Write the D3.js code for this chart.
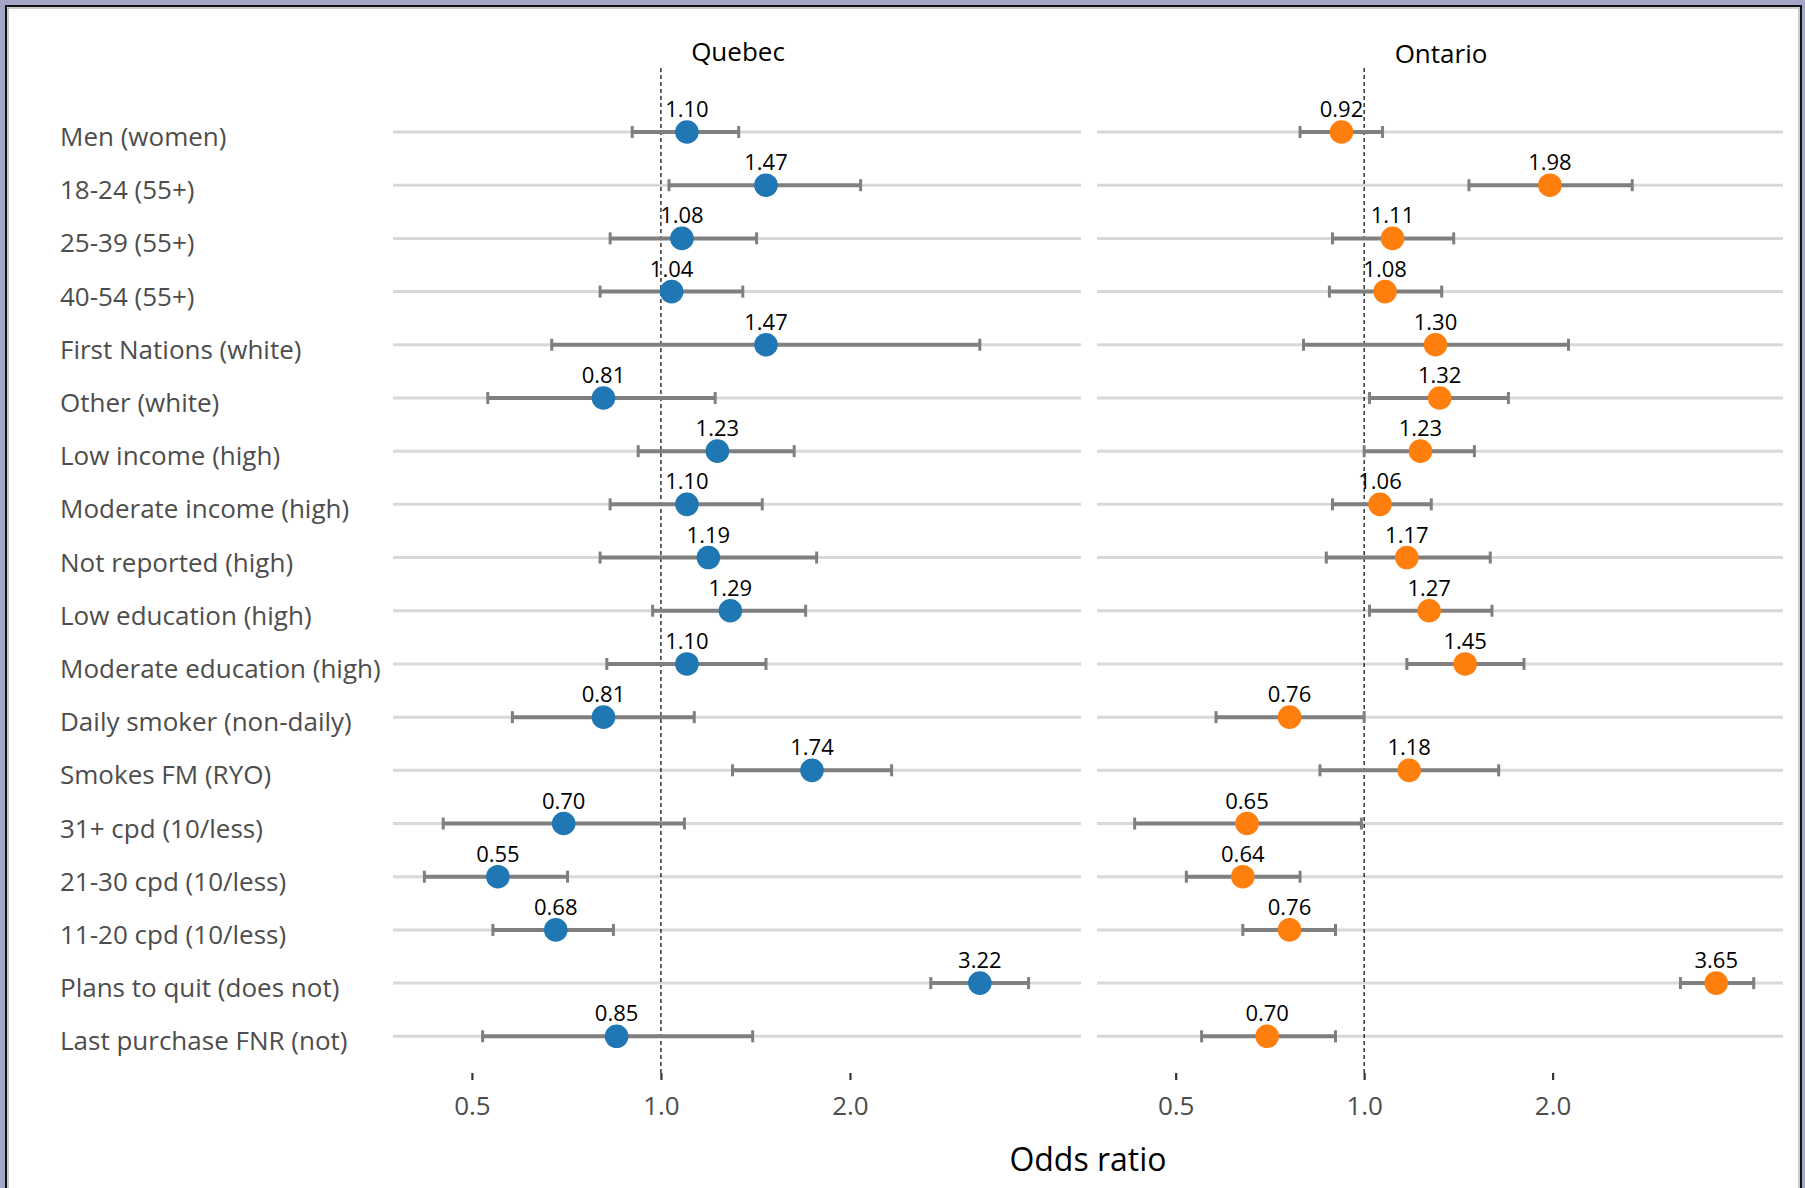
<!DOCTYPE html>
<html>
<head>
<meta charset="utf-8">
<script src="https://cdn.jsdelivr.net/npm/d3@7"></script>
<style>
  html, body { margin: 0; padding: 0; background: #a3a6c6; }
  svg { display: block; }
  text { font-family: "Open Sans", "Noto Sans", sans-serif; }
</style>
</head>
<body>
<svg id="chart" width="1805" height="1188"></svg>
<script>
const categories = [
  "Men (women)", "18-24 (55+)", "25-39 (55+)", "40-54 (55+)",
  "First Nations (white)", "Other (white)", "Low income (high)",
  "Moderate income (high)", "Not reported (high)", "Low education (high)",
  "Moderate education (high)", "Daily smoker (non-daily)", "Smokes FM (RYO)",
  "31+ cpd (10/less)", "21-30 cpd (10/less)", "11-20 cpd (10/less)",
  "Plans to quit (does not)", "Last purchase FNR (not)"
];
const quebecOR = [1.10, 1.47, 1.08, 1.04, 1.47, 0.81, 1.23, 1.10, 1.19, 1.29, 1.10, 0.81, 1.74, 0.70, 0.55, 0.68, 3.22, 0.85];
const quebecLo = [0.90, 1.03, 0.83, 0.80, 0.67, 0.53, 0.92, 0.83, 0.80, 0.97, 0.82, 0.58, 1.30, 0.45, 0.42, 0.54, 2.69, 0.52];
const quebecHi = [1.33, 2.08, 1.42, 1.35, 3.22, 1.22, 1.63, 1.45, 1.77, 1.70, 1.47, 1.13, 2.33, 1.09, 0.71, 0.84, 3.85, 1.40];
const ontarioOR = [0.92, 1.98, 1.11, 1.08, 1.30, 1.32, 1.23, 1.06, 1.17, 1.27, 1.45, 0.76, 1.18, 0.65, 0.64, 0.76, 3.65, 0.70];
const ontarioLo = [0.79, 1.47, 0.89, 0.88, 0.80, 1.02, 1.00, 0.89, 0.87, 1.02, 1.17, 0.58, 0.85, 0.43, 0.52, 0.64, 3.20, 0.55];
const ontarioHi = [1.07, 2.68, 1.39, 1.33, 2.12, 1.70, 1.50, 1.28, 1.59, 1.60, 1.80, 1.00, 1.64, 0.99, 0.79, 0.90, 4.19, 0.90];
const panelTitles = ["Quebec", "Ontario"];
const panelColors = ["#1f77b4", "#ff7f0e"];
const tickValues = [0.5, 1.0, 2.0];
const tickLabels = ["0.5", "1.0", "2.0"];
const xTitle = "Odds ratio";

const svg = d3.select("#chart");

// outer frame
svg.append("rect").attr("x", 0).attr("y", 0).attr("width", 1805).attr("height", 1188).attr("fill", "#a3a6c6");
svg.append("rect").attr("x", 6).attr("y", 6).attr("width", 1795).attr("height", 1190)
  .attr("fill", "#ffffff").attr("stroke", "#111").attr("stroke-width", 2);
svg.append("rect").attr("x", 8).attr("y", 8).attr("width", 1791).attr("height", 1190)
  .attr("fill", "none").attr("stroke", "#9a9a9a").attr("stroke-width", 1);

// shared log domain with 5% expansion
const allVals = quebecLo.concat(quebecHi, ontarioLo, ontarioHi);
const lmin = Math.log2(d3.min(allVals)), lmax = Math.log2(d3.max(allVals));
const ex = (lmax - lmin) * 0.05;
const domain = [Math.pow(2, lmin - ex), Math.pow(2, lmax + ex)];

const y = d3.scalePoint().domain(categories).range([132, 1036.3]);

const panels = [
  { title: panelTitles[0], x0: 393, x1: 1083, or: quebecOR, lo: quebecLo, hi: quebecHi, color: panelColors[0], titleY: 61 },
  { title: panelTitles[1], x0: 1097, x1: 1785, or: ontarioOR, lo: ontarioLo, hi: ontarioHi, color: panelColors[1], titleY: 63 }
];

const panelTop = 68, panelBottom = 1073;

// y labels
svg.append("g").selectAll("text").data(categories).join("text")
  .attr("x", 60).attr("y", d => y(d) + 14)
  .attr("font-size", 26).attr("fill", "#4d4d4d")
  .text(d => d);

panels.forEach(p => {
  const x = d3.scaleLog().base(2).domain(domain).range([p.x0, p.x1]);
  const g = svg.append("g");

  // gridlines
  g.append("g").selectAll("line").data(categories).join("line")
    .attr("x1", p.x0).attr("x2", p.x1 - 2)
    .attr("y1", d => y(d)).attr("y2", d => y(d))
    .attr("stroke", "#d9d9d9").attr("stroke-width", 3);

  // reference line at 1
  g.append("line")
    .attr("x1", x(1)).attr("x2", x(1)).attr("y1", panelTop).attr("y2", panelBottom)
    .attr("stroke", "#000").attr("stroke-width", 1.2).attr("stroke-dasharray", "4,3");

  const rows = categories.map((c, i) => ({ c, or: p.or[i], lo: p.lo[i], hi: p.hi[i] }));

  // error bars
  const eb = g.append("g").selectAll("g").data(rows).join("g");
  eb.append("line")
    .attr("x1", d => x(d.lo)).attr("x2", d => x(d.hi))
    .attr("y1", d => y(d.c)).attr("y2", d => y(d.c))
    .attr("stroke", "#7f7f7f").attr("stroke-width", 4);
  eb.append("line")
    .attr("x1", d => x(d.lo)).attr("x2", d => x(d.lo))
    .attr("y1", d => y(d.c) - 6).attr("y2", d => y(d.c) + 6)
    .attr("stroke", "#7f7f7f").attr("stroke-width", 3);
  eb.append("line")
    .attr("x1", d => x(d.hi)).attr("x2", d => x(d.hi))
    .attr("y1", d => y(d.c) - 6).attr("y2", d => y(d.c) + 6)
    .attr("stroke", "#7f7f7f").attr("stroke-width", 3);

  // points
  g.append("g").selectAll("circle").data(rows).join("circle")
    .attr("cx", d => x(d.or)).attr("cy", d => y(d.c)).attr("r", 11.8)
    .attr("fill", p.color);

  // value labels
  g.append("g").selectAll("text").data(rows).join("text")
    .attr("x", d => x(d.or)).attr("y", d => y(d.c) - 15)
    .attr("text-anchor", "middle").attr("font-size", 22).attr("fill", "#000")
    .text(d => d.or.toFixed(2));

  // panel title
  g.append("text").attr("x", (p.x0 + p.x1) / 2).attr("y", p.titleY)
    .attr("text-anchor", "middle").attr("font-size", 26).attr("fill", "#000")
    .text(p.title);

  // axis
  const axis = d3.axisBottom(x).tickValues(tickValues)
    .tickFormat((d, i) => tickLabels[i]).tickSize(7).tickSizeOuter(0);
  const ag = g.append("g").attr("transform", `translate(0,${panelBottom})`).call(axis);
  ag.select(".domain").remove();
  ag.selectAll(".tick line").attr("stroke", "#333").attr("stroke-width", 2.2);
  ag.selectAll(".tick text").attr("font-size", 26).attr("fill", "#4d4d4d")
    .attr("font-family", "Open Sans").attr("dy", 0).attr("y", 42);
});

// x title
svg.append("text").attr("x", 1088).attr("y", 1171)
  .attr("text-anchor", "middle").attr("font-size", 32).attr("fill", "#000")
  .text(xTitle);
</script>
</body>
</html>
